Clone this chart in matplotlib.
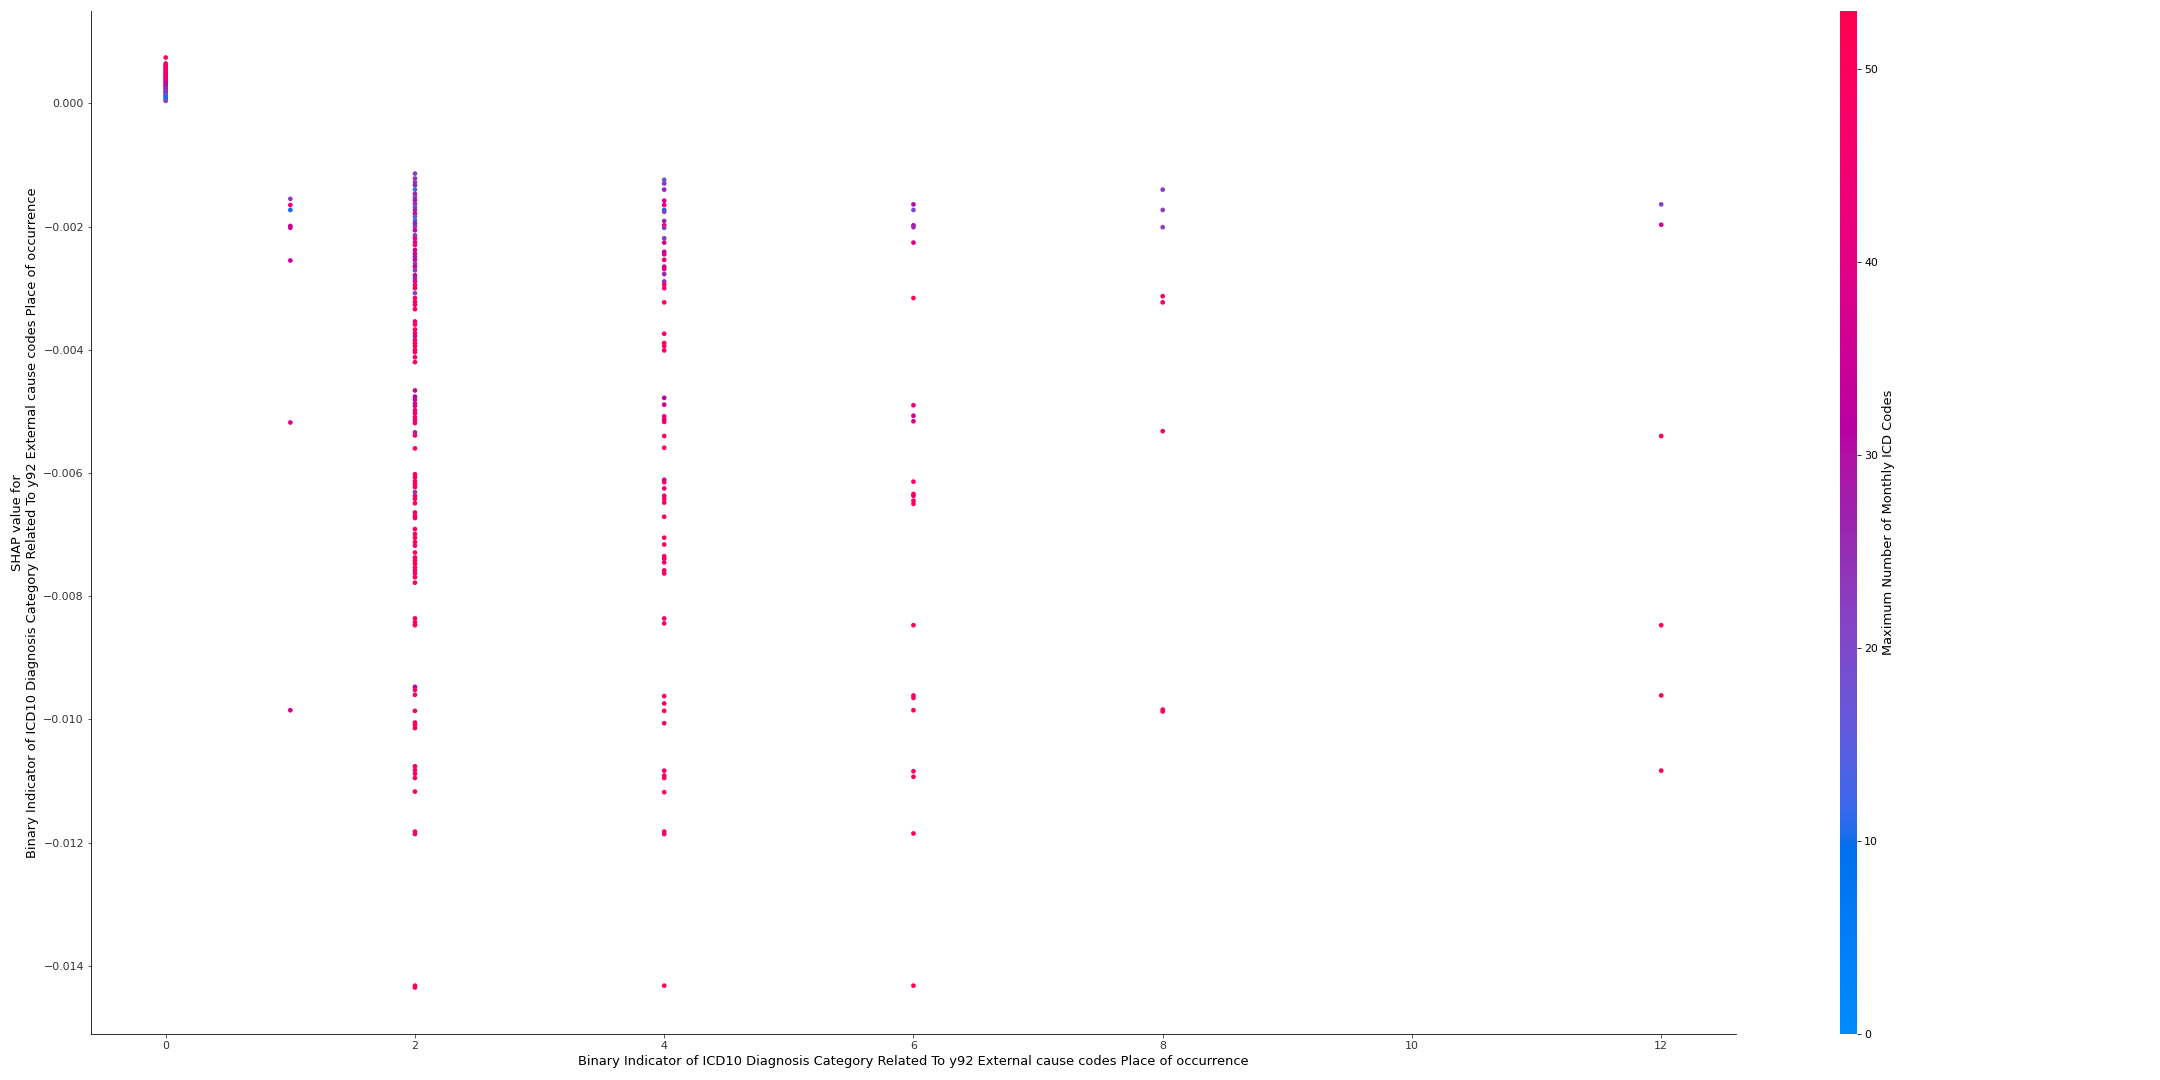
import numpy as np
import matplotlib
matplotlib.use("Agg")
import matplotlib.pyplot as plt
from matplotlib.colors import LinearSegmentedColormap

# feature value, SHAP value and interaction colour value, one list per x column
feature_name = "Binary Indicator of ICD10 Diagnosis Category Related To y92 External cause codes Place of occurrence"
color_name = "Maximum Number of Monthly ICD Codes"

shap_x0 = [0.000744, 0.000647, 0.000620, 0.000600, 0.000580, 0.000560, 0.000540, 0.000520,
           0.000500, 0.000480, 0.000460, 0.000440, 0.000420, 0.000400, 0.000380, 0.000360,
           0.000340, 0.000320, 0.000300, 0.000280, 0.000260, 0.000240, 0.000220, 0.000200,
           0.000180, 0.000160, 0.000140, 0.000120, 0.000100, 0.000080, 0.000060, 0.000040]
col_x0 = [50, 52, 48, 50, 46, 50, 44, 50, 48, 42, 50, 38, 46, 40, 48, 34,
          44, 30, 38, 26, 32, 22, 28, 24, 20, 26, 18, 14, 10, 8, 12, 20]

shap_x1 = [-0.00155, -0.00165, -0.00173, -0.00199, -0.00202, -0.00255, -0.00518, -0.00985]
col_x1 = [22, 44, 10, 36, 34, 36, 42, 36]

shap_x2 = [-0.00114, -0.00122, -0.00128, -0.00133, -0.00140, -0.00147, -0.00152, -0.00157,
           -0.00163, -0.00168, -0.00173, -0.00179, -0.00184, -0.00190, -0.00195, -0.00200,
           -0.00206, -0.00214, -0.00219, -0.00225, -0.00230, -0.00238, -0.00244, -0.00249,
           -0.00254, -0.00260, -0.00265, -0.00271, -0.00279, -0.00284, -0.00289, -0.00295,
           -0.00300, -0.00308, -0.00316, -0.00322, -0.00327, -0.00334,
           -0.00354, -0.00359, -0.00367, -0.00373, -0.00378, -0.00384, -0.00389, -0.00394,
           -0.00400, -0.00404, -0.00412, -0.00420,
           -0.00466, -0.00476, -0.00481, -0.00487, -0.00491, -0.00498, -0.00503, -0.00509,
           -0.00514, -0.00519, -0.00534, -0.00539, -0.00560,
           -0.00602, -0.00607, -0.00613, -0.00618, -0.00623, -0.00631, -0.00637, -0.00642,
           -0.00649, -0.00664, -0.00669, -0.00673, -0.00691, -0.00699, -0.00705, -0.00712,
           -0.00718, -0.00729, -0.00737, -0.00742, -0.00747, -0.00753, -0.00758, -0.00763,
           -0.00769, -0.00778,
           -0.00836, -0.00842, -0.00847,
           -0.00947, -0.00952, -0.00960, -0.00986, -0.01005, -0.01009, -0.01014,
           -0.01076, -0.01082, -0.01088, -0.01095, -0.01117, -0.01182, -0.01186,
           -0.01432, -0.01435]
col_x2 = [22, 24, 22, 26, 12, 28, 20, 30, 24, 18, 26, 40, 14, 12, 30, 24,
          36, 22, 44, 38, 46, 34, 40, 28, 36, 22, 38, 24, 34, 26, 42, 48,
          50, 20, 48, 50, 46, 50,
          42, 50, 48, 50, 30, 50, 48, 52, 50, 46, 50, 48,
          34, 32, 36, 30, 40, 46, 44, 50, 42, 48, 26, 50, 52,
          50, 48, 52, 46, 50, 24, 50, 48, 52, 46, 50, 48, 50, 48, 52, 50,
          46, 50, 48, 50, 52, 50, 46, 50, 48, 50,
          48, 50, 52,
          32, 50, 48, 50, 48, 50, 52,
          48, 50, 46, 50, 52, 50, 48,
          50, 52]

shap_x4 = [-0.00124, -0.00130, -0.00140, -0.00158, -0.00165, -0.00173, -0.00176, -0.00191,
           -0.00198, -0.00202, -0.00219, -0.00226, -0.00241, -0.00245, -0.00254, -0.00265,
           -0.00269, -0.00277, -0.00289, -0.00294, -0.00300, -0.00323,
           -0.00374, -0.00389, -0.00394, -0.00401,
           -0.00478, -0.00489, -0.00508, -0.00513, -0.00517, -0.00540, -0.00559,
           -0.00611, -0.00615, -0.00625, -0.00637, -0.00642, -0.00648, -0.00671,
           -0.00705, -0.00716, -0.00735, -0.00739, -0.00745, -0.00758, -0.00763,
           -0.00836, -0.00844,
           -0.00962, -0.00974, -0.00986, -0.01006,
           -0.01083, -0.01091, -0.01095, -0.01118, -0.01182, -0.01186, -0.01432]
col_x4 = [16, 24, 26, 38, 44, 10, 22, 26, 48, 22, 24, 36, 34, 38, 44, 36,
          40, 26, 24, 48, 46, 50,
          48, 50, 48, 50,
          32, 36, 44, 42, 46, 50, 50,
          38, 44, 48, 46, 50, 48, 50,
          50, 52, 48, 50, 46, 50, 48,
          50, 48,
          50, 48, 52, 46,
          50, 48, 50, 52, 50, 48, 50]

shap_x6 = [-0.00164, -0.00173, -0.00198, -0.00201, -0.00226, -0.00316, -0.00490, -0.00507,
           -0.00516, -0.00614, -0.00634, -0.00637, -0.00645, -0.00650, -0.00847, -0.00961,
           -0.00965, -0.00985, -0.01084, -0.01093, -0.01185, -0.01432]
col_x6 = [30, 20, 36, 24, 38, 50, 44, 36, 38, 48, 50, 46, 50, 48, 50, 50,
          48, 50, 48, 50, 50, 50]

shap_x8 = [-0.00140, -0.00173, -0.00201, -0.00313, -0.00323, -0.00532, -0.00984, -0.00987]
col_x8 = [22, 22, 22, 46, 50, 48, 50, 50]

shap_x12 = [-0.00164, -0.00197, -0.00540, -0.00847, -0.00961, -0.01083]
col_x12 = [22, 40, 50, 50, 50, 50]

x_levels = [0, 1, 2, 4, 6, 8, 12]
shap_cols = [shap_x0, shap_x1, shap_x2, shap_x4, shap_x6, shap_x8, shap_x12]
color_cols = [col_x0, col_x1, col_x2, col_x4, col_x6, col_x8, col_x12]


# shap's red_blue colormap, built in LCH space
def lch2rgb(l, c, h):
    a = c * np.cos(h)
    b = c * np.sin(h)
    fy = (l + 16) / 116
    fx = fy + a / 500
    fz = fy - b / 200
    d = 6 / 29

    def finv(t):
        return t ** 3 if t > d else 3 * d * d * (t - 4 / 29)

    xyz = np.array([0.95047 * finv(fx), finv(fy), 1.08883 * finv(fz)])
    m = np.array([[3.2406, -1.5372, -0.4986],
                  [-0.9689, 1.8758, 0.0415],
                  [0.0557, -0.2040, 1.0570]])
    rgb = m @ xyz
    rgb = np.where(rgb > 0.0031308, 1.055 * np.abs(rgb) ** (1 / 2.4) - 0.055, 12.92 * rgb)
    return np.clip(rgb, 0, 1)


blue_lch = [54., 70., 4.6588]
red_lch = [54., 90., 0.35470565 + 2 * np.pi]
l_mid = 40.
nsteps = 100
l_vals = list(np.linspace(blue_lch[0], l_mid, nsteps // 2)) + list(np.linspace(l_mid, red_lch[0], nsteps // 2))
c_vals = np.linspace(blue_lch[1], red_lch[1], nsteps)
h_vals = np.linspace(blue_lch[2], red_lch[2], nsteps)
cols = [lch2rgb(l, c, h) for l, c, h in zip(l_vals, c_vals, h_vals)]
red_blue = LinearSegmentedColormap.from_list("red_blue", cols)

# %%

fig = plt.figure(figsize=(30, 15), dpi=72)
ax = fig.add_axes([0.0421, 0.0426, 0.7616, 0.9472])
cax = fig.add_axes([0.8519, 0.0426, 0.0079, 0.9472])

xs, ys, cs = [], [], []
for xv, sv, cv in zip(x_levels, shap_cols, color_cols):
    xs += [xv] * len(sv)
    ys += sv
    cs += cv

p = ax.scatter(xs, ys, s=22, c=cs, cmap=red_blue, vmin=0, vmax=53,
               linewidth=0, alpha=1, rasterized=True)

ax.set_xlabel(feature_name, fontsize=13)
ax.set_ylabel("SHAP value for\n" + feature_name, fontsize=13)
ax.spines['top'].set_visible(False)
ax.spines['right'].set_visible(False)
ax.xaxis.set_ticks_position('bottom')
ax.yaxis.set_ticks_position('left')
ax.tick_params(color="#333333", labelcolor="#333333", labelsize=11)
ax.set_xticks([0, 2, 4, 6, 8, 10, 12])

cb = fig.colorbar(p, cax=cax, ticks=[0, 10, 20, 30, 40, 50])
cb.set_label(color_name, size=13)
cb.ax.tick_params(labelsize=11)
cb.outline.set_visible(False)

fig.savefig("out.png", dpi=72)
